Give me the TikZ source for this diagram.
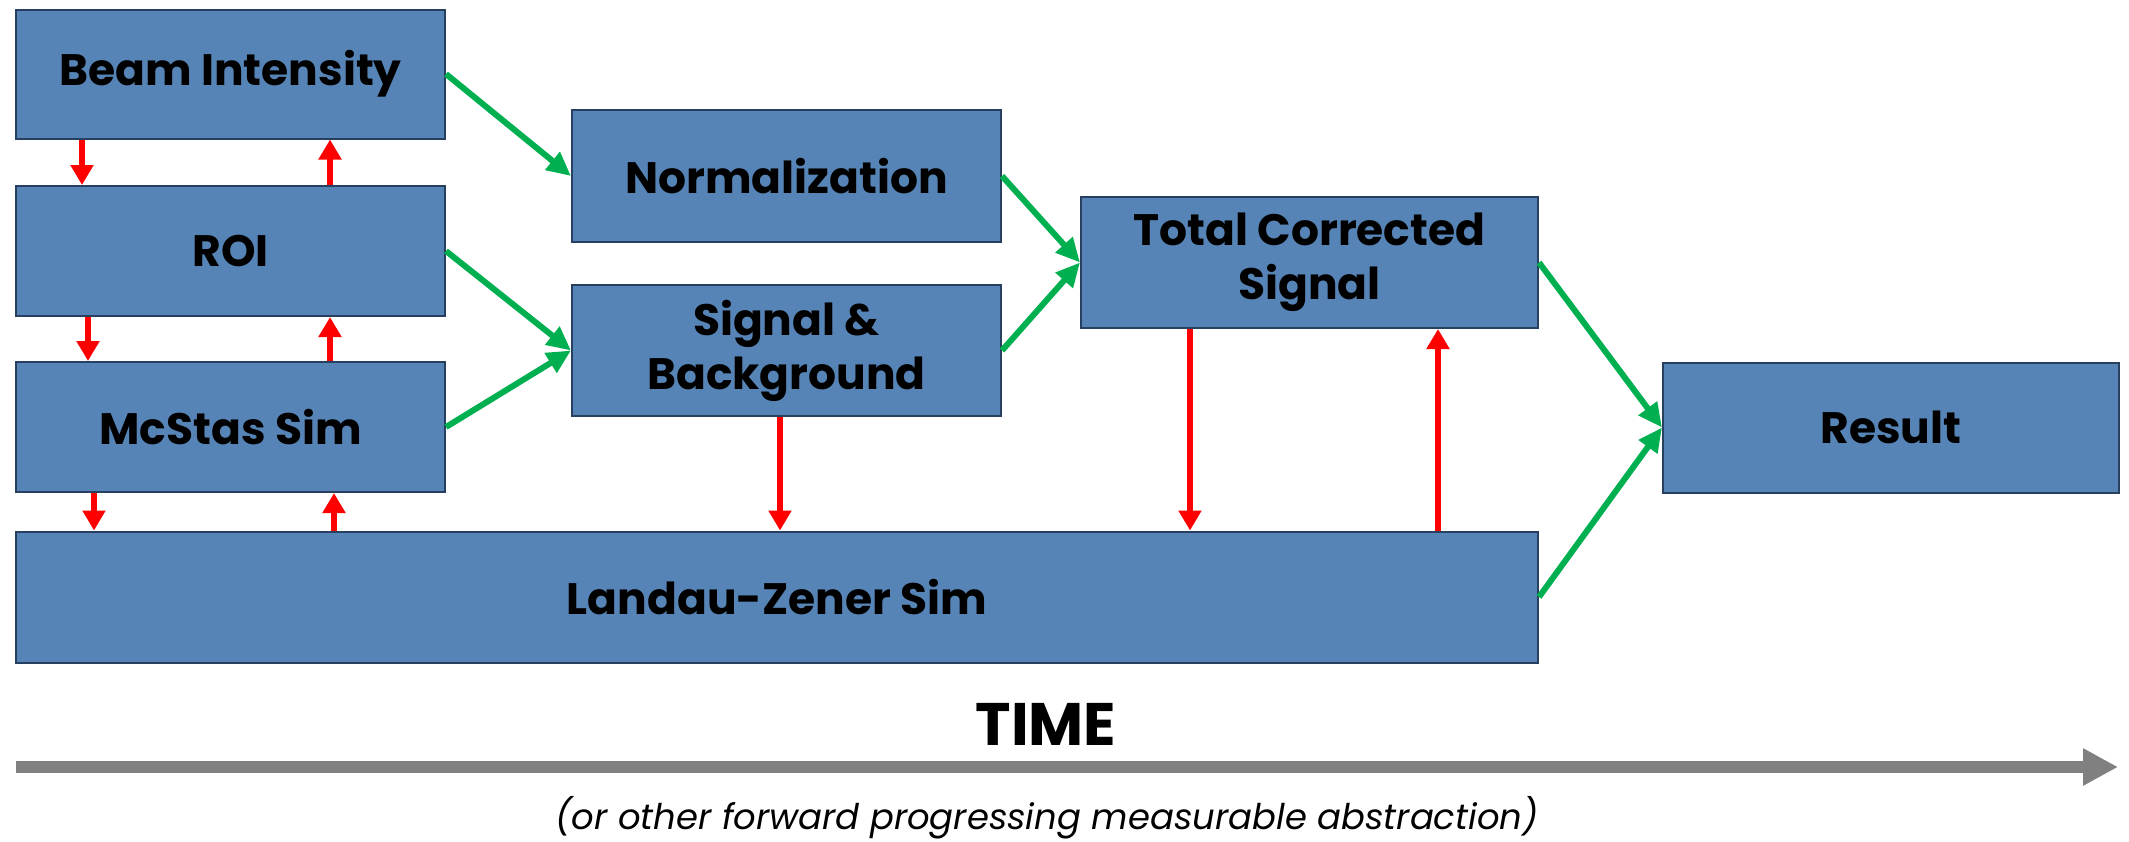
\documentclass[tikz,border=0pt]{standalone}
\usepackage{fontspec}
\setmainfont{Poppins}
\usetikzlibrary{arrows.meta}
\definecolor{boxfill}{RGB}{86,132,182}
\definecolor{boxline}{RGB}{40,64,96}
\definecolor{grn}{RGB}{0,176,80}
\definecolor{gry}{RGB}{128,128,128}
\tikzset{
  blk/.style={draw=boxline, line width=2pt, fill=boxfill, inner sep=0pt, align=center,
    font=\fontsize{44}{54}\selectfont\bfseries, text=black},
  grnarr/.style={draw=grn, line width=6pt, -{Triangle[length=24pt,width=22pt]}},
  redarr/.style={draw=red, line width=6pt, -{Triangle[length=20pt,width=22pt]}},
}
\begin{document}
\begin{tikzpicture}[x=1pt,y=-1pt]
\useasboundingbox (0,0) rectangle (2129,841);
\node[blk, minimum width=429pt, minimum height=129pt] (bi) at (230.5,74) {Beam Intensity};
\node[blk, minimum width=429pt, minimum height=130pt] (roi) at (230.5,251) {ROI};
\node[blk, minimum width=429pt, minimum height=130pt] (mc) at (230.5,427) {McStas Sim};
\node[blk, minimum width=429pt, minimum height=132pt] (norm) at (786.5,176) {Normalization};
\node[blk, minimum width=429pt, minimum height=131pt] (sb) at (786.5,350.5) {Signal \&\\Background};
\node[blk, minimum width=457pt, minimum height=131pt] (tc) at (1309.5,262.5) {Total Corrected\\Signal};
\node[blk, minimum width=456pt, minimum height=130pt] (res) at (1891,427.5) {Result};
\node[blk, minimum width=1522pt, minimum height=131pt] (lz) at (777,597) {Landau-Zener Sim};
% green arrows
\draw[grnarr] (bi.east) -- (norm.west);
\draw[grnarr] (roi.east) -- (sb.west);
\draw[grnarr] (mc.east) -- (sb.west);
\draw[grnarr] (norm.east) -- (tc.west);
\draw[grnarr] (sb.east) -- (tc.west);
\draw[grnarr] (tc.east) -- (res.west);
\draw[grnarr] (lz.east) -- (res.west);
% red arrows
\draw[redarr] (82,0 |- bi.south) -- (82,0 |- roi.north);
\draw[redarr] (330,0 |- roi.north) -- (330,0 |- bi.south);
\draw[redarr] (88,0 |- roi.south) -- (88,0 |- mc.north);
\draw[redarr] (330,0 |- mc.north) -- (330,0 |- roi.south);
\draw[redarr] (94,0 |- mc.south) -- (94,0 |- lz.north);
\draw[redarr] (334,0 |- lz.north) -- (334,0 |- mc.south);
\draw[redarr] (780,0 |- sb.south) -- (780,0 |- lz.north);
\draw[redarr] (1190,0 |- tc.south) -- (1190,0 |- lz.north);
\draw[redarr] (1438,0 |- lz.north) -- (1438,0 |- tc.south);
% time axis
\node[font=\fontsize{60}{66}\selectfont\bfseries] (time) at (1046,724) {TIME};
\coordinate (t0) at (16,767);
\coordinate (t1) at (2118,767);
\draw[draw=gry, line width=11.5pt, -{Triangle[length=35pt,width=35pt]}] (t0) -- (t1);
\node[font=\fontsize{35.4}{42}\selectfont\itshape] (sub) at (1047,818) {(or other forward progressing measurable abstraction)};
\end{tikzpicture}
\end{document}
